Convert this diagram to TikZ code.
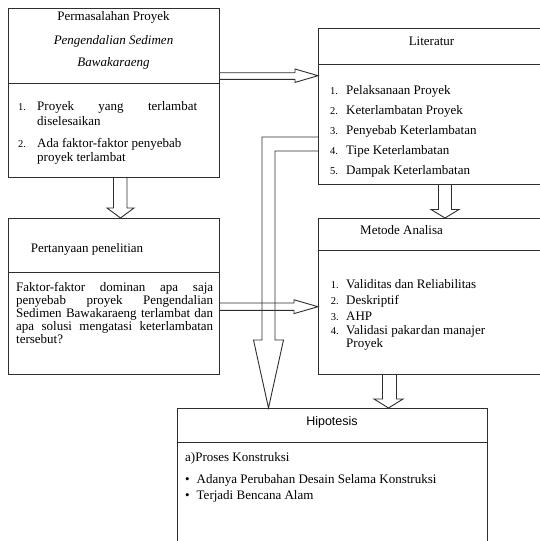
\documentclass[tikz,border=0pt]{standalone}
\usepackage{fontspec}
\setmainfont{Liberation Serif}
\newfontfamily\hsans{Liberation Sans}
\definecolor{lc}{gray}{0.18}
\newcommand{\fsA}{\fontsize{13}{15}\selectfont}
\newcommand{\fsB}{\fontsize{13}{14}\selectfont}
\newcommand{\fsN}{\fontsize{10.5}{12}\selectfont}
\begin{document}
\begin{tikzpicture}[x=1pt,y=-1pt,
  box/.style={draw=lc, line width=0.9pt, rectangle, inner sep=0pt, anchor=north west},
  ln/.style={draw=lc, line width=0.9pt, line join=miter},
  txt/.style={inner sep=0pt, text height=9.5pt, text depth=3pt, font=\fsA, text=black},
  num/.style={txt, font=\fsN},
  body/.style={inner sep=0pt, text height=9.5pt, text depth=3pt, font=\fsB, text=black}]
\useasboundingbox (0,0) rectangle (540,541);
\clip (0,0) rectangle (540,541);
\fill[white] (0,0) rectangle (540,541);

% boxes
\node[box, minimum width=211pt, minimum height=169pt] (b1) at (8,8) {};
\node[box, minimum width=227pt, minimum height=156pt] (lit) at (318,28) {};
\node[box, minimum width=211pt, minimum height=156pt] (per) at (8,218) {};
\node[box, minimum width=227pt, minimum height=156pt] (met) at (318,218) {};
\node[box, minimum width=310pt, minimum height=170pt] (hip) at (177,408) {};

% separators
\draw[ln] (b1.west |- 0,83) -- (b1.east |- 0,83);
\draw[ln] (lit.west |- 0,64) -- (lit.east |- 0,64);
\draw[ln] (per.west |- 0,272) -- (per.east |- 0,272);
\draw[ln] (met.west |- 0,250) -- (met.east |- 0,250);
\draw[ln] (hip.west |- 0,442) -- (hip.east |- 0,442);

% block arrows
% Permasalahan -> Literatur
\draw[ln] (219,72.7) -- (295,72.7) -- (295,69) -- (318,75.7) -- (295,82.4) -- (295,79.3) -- (219,79.3);
% Permasalahan -> Pertanyaan
\draw[ln] (113.5,177) -- (113.5,208) -- (107,208) -- (120.5,218) -- (134,208) -- (127,208) -- (127,177);
% Literatur -> Metode
\draw[ln] (438.5,184) -- (438.5,209.5) -- (431,209.5) -- (445,218) -- (459,209.5) -- (451.5,209.5) -- (451.5,184);
% Metode -> Hipotesis
\draw[ln] (382.5,374) -- (382.5,399) -- (374,399) -- (388.5,408) -- (403,399) -- (396.5,399) -- (396.5,374);
% Literatur -> Hipotesis (L-shaped)
\draw[ln] (318,137) -- (262,137) -- (262,340) -- (253.5,340) -- (268.5,408) -- (283.5,340) -- (275,340) -- (275,151) -- (318,151);
% Pertanyaan -> Metode
\draw[ln] (219,303) -- (294,303) -- (294,299.8) -- (318,306.7) -- (294,313.6) -- (294,310.4) -- (219,310.4);

% Permasalahan Proyek
\node[txt] (t1) at (113.5,17) {Permasalahan Proyek};
\node[txt] (t2) at (113.5,41) {\itshape Pengendalian Sedimen};
\node[txt] (t3) at (113.5,63) {\itshape Bawakaraeng};
\node[num, anchor=west] (n11) at (18,107) {1.};
\node[txt, anchor=west] (l11) at (37,107) {\makebox[160pt][s]{Proyek yang terlambat}};
\node[txt, anchor=west] (l12) at (37,122) {diselesaikan};
\node[num, anchor=west] (n12) at (18,144) {2.};
\node[txt, anchor=west] (l13) at (37,144) {Ada faktor-faktor penyebab};
\node[txt, anchor=west] (l14) at (37,158) {proyek terlambat};

% Literatur
\node[txt] (tl) at (431.5,42.7) {Literatur};
\node[num, anchor=west] (n21) at (330,91) {1.};
\node[txt, anchor=west] (l21) at (346,91) {Pelaksanaan Proyek};
\node[num, anchor=west] (n22) at (330,111.5) {2.};
\node[txt, anchor=west] (l22) at (346,111.5) {Keterlambatan Proyek};
\node[num, anchor=west] (n23) at (330,131.5) {3.};
\node[txt, anchor=west] (l23) at (346,131.5) {Penyebab Keterlambatan};
\node[num, anchor=west] (n24) at (330,151.5) {4.};
\node[txt, anchor=west] (l24) at (346,151.5) {Tipe Keterlambatan};
\node[num, anchor=west] (n25) at (330,171.5) {5.};
\node[txt, anchor=west] (l25) at (346,171.5) {Dampak Keterlambatan};

% Pertanyaan penelitian
\node[txt, anchor=west] (tp) at (30.7,249) {Pertanyaan penelitian};
\node[body, anchor=west] (p1) at (16,288) {\makebox[197pt][s]{Faktor-faktor dominan apa saja}};
\node[body, anchor=west] (p2) at (16,301) {\makebox[197pt][s]{penyebab proyek Pengendalian}};
\node[body, anchor=west] (p3) at (16,314) {\makebox[197pt][s]{Sedimen Bawakaraeng terlambat dan}};
\node[body, anchor=west] (p4) at (16,327) {\makebox[197pt][s]{apa solusi mengatasi keterlambatan}};
\node[body, anchor=west] (p5) at (16,340) {tersebut?};

% Metode Analisa
\node[txt, anchor=west] (tm) at (360,231.7) {Metode Analisa};
\node[num, anchor=west] (n31) at (330.7,285) {1.};
\node[txt, anchor=west] (l31) at (346,285) {Validitas dan Reliabilitas};
\node[num, anchor=west] (n32) at (330.7,301.5) {2.};
\node[txt, anchor=west] (l32) at (346,301.5) {Deskriptif};
\node[num, anchor=west] (n33) at (330.7,317.3) {3.};
\node[txt, anchor=west] (l33) at (346,317.3) {AHP};
\node[num, anchor=west] (n34) at (330.7,331) {4.};
\node[txt, anchor=west] (l34) at (346,331) {Validasi pakar\hspace{1pt}dan manajer};
\node[txt, anchor=west] (l35) at (346,344) {Proyek};

% Hipotesis
\node[txt, font=\hsans\fontsize{12.5}{14}\selectfont] (th) at (332,422.5) {Hipotesis};
\node[txt, anchor=west] (h1) at (185,458.5) {a)Proses Konstruksi};
\node[txt, anchor=west] (hb1) at (185,480.5) {\textbullet};
\node[txt, anchor=west] (h2) at (196.5,480.5) {Adanya Perubahan Desain Selama Konstruksi};
\node[txt, anchor=west] (hb2) at (185,496.5) {\textbullet};
\node[txt, anchor=west] (h3) at (196.5,496.5) {Terjadi Bencana Alam};
\end{tikzpicture}
\end{document}
